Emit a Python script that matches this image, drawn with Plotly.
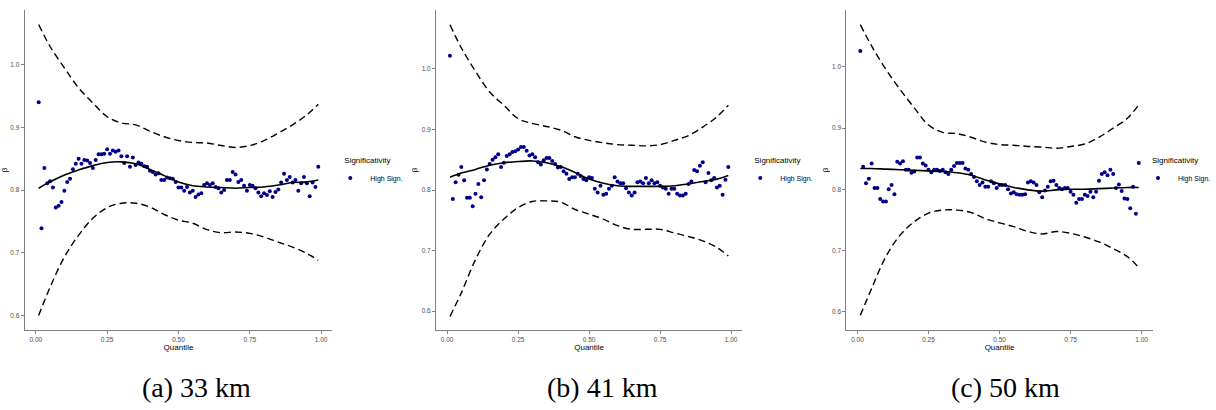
import plotly.graph_objects as go

# ---------------- data ----------------
quantiles = [round(0.01 * i, 2) for i in range(1, 100)]

beta_33 = [0.940, 0.739, 0.835, 0.811, 0.814, 0.804, 0.772, 0.775, 0.781, 0.799,
           0.813, 0.818, 0.833, 0.842, 0.850, 0.842, 0.848, 0.847, 0.843, 0.835,
           0.848, 0.857, 0.857, 0.858, 0.865, 0.858, 0.863, 0.861, 0.863, 0.854,
           0.843, 0.854, 0.837, 0.852, 0.840, 0.844, 0.842, 0.838, 0.837, 0.831,
           0.829, 0.825, 0.827, 0.816, 0.816, 0.820, 0.819, 0.818, 0.813, 0.804,
           0.804, 0.799, 0.805, 0.796, 0.799, 0.789, 0.793, 0.795, 0.808, 0.811,
           0.808, 0.811, 0.805, 0.803, 0.796, 0.800, 0.816, 0.816, 0.829, 0.825,
           0.813, 0.816, 0.807, 0.799, 0.808, 0.807, 0.803, 0.796, 0.790, 0.795,
           0.792, 0.798, 0.789, 0.797, 0.801, 0.812, 0.826, 0.816, 0.821, 0.812,
           0.816, 0.799, 0.811, 0.821, 0.811, 0.790, 0.812, 0.805, 0.837]

beta_41 = [1.022, 0.785, 0.813, 0.825, 0.838, 0.816, 0.787, 0.787, 0.773, 0.794,
           0.810, 0.788, 0.816, 0.834, 0.843, 0.850, 0.854, 0.859, 0.838, 0.845,
           0.856, 0.859, 0.863, 0.864, 0.867, 0.871, 0.871, 0.865, 0.857, 0.859,
           0.854, 0.846, 0.842, 0.849, 0.853, 0.853, 0.848, 0.843, 0.837, 0.838,
           0.831, 0.827, 0.818, 0.821, 0.821, 0.827, 0.823, 0.818, 0.816, 0.821,
           0.820, 0.802, 0.796, 0.807, 0.792, 0.794, 0.802, 0.807, 0.821, 0.814,
           0.811, 0.811, 0.803, 0.796, 0.791, 0.796, 0.813, 0.814, 0.811, 0.820,
           0.811, 0.816, 0.811, 0.813, 0.807, 0.804, 0.802, 0.794, 0.802, 0.802,
           0.794, 0.791, 0.791, 0.794, 0.810, 0.814, 0.833, 0.831, 0.840, 0.846,
           0.813, 0.828, 0.816, 0.820, 0.804, 0.807, 0.792, 0.817, 0.838]

beta_50 = [1.026, 0.837, 0.810, 0.817, 0.842, 0.802, 0.802, 0.784, 0.780, 0.780,
           0.800, 0.807, 0.792, 0.845, 0.842, 0.846, 0.832, 0.832, 0.827, 0.829,
           0.852, 0.852, 0.842, 0.839, 0.832, 0.828, 0.832, 0.832, 0.830, 0.832,
           0.828, 0.825, 0.832, 0.838, 0.843, 0.843, 0.843, 0.834, 0.832, 0.825,
           0.820, 0.813, 0.807, 0.811, 0.804, 0.804, 0.813, 0.810, 0.802, 0.807,
           0.807, 0.807, 0.800, 0.793, 0.795, 0.792, 0.791, 0.791, 0.792, 0.811,
           0.813, 0.811, 0.807, 0.795, 0.787, 0.798, 0.804, 0.813, 0.814, 0.807,
           0.802, 0.800, 0.802, 0.802, 0.796, 0.791, 0.778, 0.784, 0.784, 0.791,
           0.789, 0.796, 0.787, 0.796, 0.814, 0.825, 0.828, 0.823, 0.832, 0.825,
           0.802, 0.808, 0.797, 0.785, 0.784, 0.769, 0.804, 0.760, 0.843]

knots = [0.01, 0.05, 0.10, 0.15, 0.20, 0.25, 0.30, 0.35, 0.40, 0.45, 0.50,
         0.55, 0.60, 0.65, 0.70, 0.75, 0.80, 0.85, 0.90, 0.95, 0.99]

fit_33 = [0.803, 0.813, 0.824, 0.832, 0.839, 0.844, 0.845, 0.842, 0.833, 0.823, 0.813,
          0.807, 0.805, 0.804, 0.803, 0.804, 0.805, 0.808, 0.812, 0.813, 0.816]
upper_33 = [1.064, 1.029, 0.995, 0.963, 0.939, 0.917, 0.907, 0.904, 0.894, 0.885, 0.879,
            0.876, 0.875, 0.871, 0.868, 0.871, 0.879, 0.891, 0.904, 0.920, 0.937]
lower_33 = [0.600, 0.645, 0.693, 0.728, 0.755, 0.772, 0.779, 0.779, 0.773, 0.761, 0.752,
            0.747, 0.737, 0.732, 0.733, 0.731, 0.725, 0.717, 0.709, 0.699, 0.688]

fit_41 = [0.821, 0.828, 0.834, 0.841, 0.845, 0.847, 0.848, 0.845, 0.839, 0.829, 0.818,
          0.811, 0.807, 0.806, 0.806, 0.806, 0.807, 0.810, 0.814, 0.818, 0.824]
upper_41 = [1.073, 1.035, 0.996, 0.962, 0.940, 0.918, 0.910, 0.905, 0.899, 0.888, 0.882,
            0.878, 0.875, 0.874, 0.873, 0.875, 0.882, 0.890, 0.904, 0.921, 0.940]
lower_41 = [0.591, 0.630, 0.685, 0.727, 0.752, 0.771, 0.781, 0.782, 0.780, 0.768, 0.760,
            0.752, 0.741, 0.735, 0.735, 0.735, 0.729, 0.723, 0.716, 0.705, 0.691]

fit_50 = [0.834, 0.834, 0.833, 0.832, 0.831, 0.830, 0.829, 0.827, 0.823, 0.815, 0.809,
          0.803, 0.799, 0.797, 0.799, 0.800, 0.800, 0.801, 0.802, 0.803, 0.803]
upper_50 = [1.069, 1.034, 0.996, 0.963, 0.933, 0.905, 0.893, 0.891, 0.885, 0.877, 0.873,
            0.872, 0.870, 0.869, 0.867, 0.870, 0.874, 0.885, 0.900, 0.916, 0.938]
lower_50 = [0.594, 0.638, 0.690, 0.725, 0.747, 0.761, 0.766, 0.766, 0.762, 0.752, 0.745,
            0.739, 0.731, 0.727, 0.731, 0.728, 0.722, 0.714, 0.703, 0.690, 0.672]

captions = ["(a) 33 km", "(b) 41 km", "(c) 50 km"]
x_ticks = [0.0, 0.25, 0.5, 0.75, 1.0]
y_ticks = [0.6, 0.7, 0.8, 0.9, 1.0]

panels = [
    (beta_33, fit_33, upper_33, lower_33),
    (beta_41, fit_41, upper_41, lower_41),
    (beta_50, fit_50, upper_50, lower_50),
]

# ---------------- layout geometry (pixels) ----------------
W, H = 1216, 410
x_dom_px = [(24.8, 333.9), (438.2, 745.9), (850.6, 1158.4)]
y_dom_px = (10, 330)
y_ranges = [(0.5768, 1.0872), (0.5686, 1.0975), (0.570, 1.093)]
legend_left_px = [344, 756, 1156]
caption_x_px = [197.5, 605, 1010]

SANS = "Liberation Sans, Arial, sans-serif"
AXIS_GREY = "#7f7f7f"

fig = go.Figure()

for i, (pts, fit, up, lo) in enumerate(panels):
    sfx = "" if i == 0 else str(i + 1)
    xa, ya = "x" + sfx, "y" + sfx
    leg = "legend" + sfx
    fig.add_trace(go.Scatter(x=knots, y=up, mode="lines", xaxis=xa, yaxis=ya,
                             line=dict(color="black", width=1.4, dash="7px,4px", shape="spline"),
                             showlegend=False, hoverinfo="skip"))
    fig.add_trace(go.Scatter(x=knots, y=lo, mode="lines", xaxis=xa, yaxis=ya,
                             line=dict(color="black", width=1.4, dash="7px,4px", shape="spline"),
                             showlegend=False, hoverinfo="skip"))
    fig.add_trace(go.Scatter(x=quantiles, y=pts, mode="markers", xaxis=xa, yaxis=ya,
                             marker=dict(color="#00008B", size=4),
                             name="High Sign.", legend=leg, showlegend=True))
    fig.add_trace(go.Scatter(x=knots, y=fit, mode="lines", xaxis=xa, yaxis=ya,
                             line=dict(color="black", width=1.6, shape="spline"),
                             showlegend=False, hoverinfo="skip"))

    axis_common = dict(showline=True, linecolor=AXIS_GREY, linewidth=1,
                       ticks="outside", ticklen=3, tickcolor=AXIS_GREY, tickwidth=1,
                       tickfont=dict(family=SANS, size=6.5, color="#4d4d4d"),
                       showgrid=False, zeroline=False, automargin=False)
    x0, x1 = x_dom_px[i]
    fig.layout["xaxis" + sfx] = dict(
        axis_common, domain=[x0 / W, x1 / W], range=[-0.039, 1.039],
        tickvals=x_ticks, tickformat=".2f", anchor=ya,
        title=dict(text="Quantile", font=dict(family=SANS, size=8, color="black"), standoff=2))
    fig.layout["yaxis" + sfx] = dict(
        axis_common, domain=[1 - y_dom_px[1] / H, 1 - y_dom_px[0] / H], range=list(y_ranges[i]),
        tickvals=y_ticks, tickformat=".1f", anchor=xa,
        title=dict(text="β", font=dict(family=SANS, size=8, color="black"), standoff=2))
    fig.layout[leg] = dict(
        x=legend_left_px[i] / W, y=1 - 153 / H, xanchor="left", yanchor="top",
        bgcolor="rgba(0,0,0,0)", borderwidth=0,
        font=dict(family=SANS, size=7, color="black"),
        title=dict(text="Significativity", side="top",
                   font=dict(family=SANS, size=8, color="black")),
        itemwidth=30, indentation=-12)
    fig.add_annotation(text=captions[i], xref="paper", yref="paper",
                       x=caption_x_px[i] / W, y=1 - 387 / H, xanchor="center", yanchor="middle",
                       showarrow=False,
                       font=dict(family="Liberation Serif, Times New Roman, serif", size=28, color="black"))

fig.update_layout(width=W, height=H, margin=dict(l=0, r=0, t=0, b=0),
                  paper_bgcolor="white", plot_bgcolor="white")

# remove the browser's default 8px body margin so the figure fills the window exactly
fig.write_html("out.html", config={"displayModeBar": False},
               post_script="document.body.style.margin='0';")
